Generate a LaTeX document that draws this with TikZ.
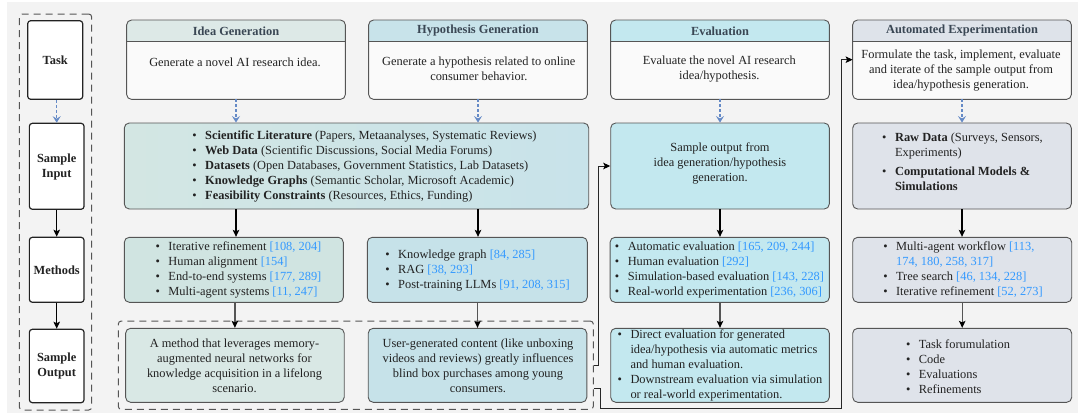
\documentclass[tikz,border=0pt]{standalone}
\usepackage{fontspec}
\setmainfont{Liberation Serif}
\usetikzlibrary{arrows.meta,positioning}

\definecolor{bgc}{HTML}{F3F3F3}
\definecolor{edge}{HTML}{555555}
\definecolor{txt}{HTML}{222222}
\definecolor{hdtxt}{HTML}{3A4754}
\definecolor{citeblue}{HTML}{3399FF}
\definecolor{dashblue}{HTML}{658AC6}
\definecolor{taskbody}{HTML}{FAFAFA}
\definecolor{ideahd}{HTML}{DDE9E7}
\definecolor{hyphd}{HTML}{C8E3EA}
\definecolor{evalhd}{HTML}{C3E8EF}
\definecolor{aehd}{HTML}{DEE3EA}
\definecolor{inleft}{HTML}{D3E6E3}
\definecolor{inright}{HTML}{C8E3EA}
\definecolor{ideafill}{HTML}{D0E4E1}
\definecolor{ideaoutfill}{HTML}{D9E8E5}
\definecolor{hypfill}{HTML}{C6E2E9}
\definecolor{evalfill}{HTML}{C3E8EF}
\definecolor{aefill}{HTML}{DFE3EA}

\newcommand{\citecol}[1]{\textcolor{citeblue}{#1}}
\newcommand{\itemlist}[1]{\begin{tabular}{@{}l@{\hspace{8.5pt}}l@{}}#1\end{tabular}}

\begin{document}
\begin{tikzpicture}[x=1pt,y=1pt,yscale=-1,
  every node/.style={font=\fontsize{12.4}{15}\selectfont, text=txt, inner sep=0.75pt},
  lblbox/.style={draw=txt, line width=1.2pt, rounded corners=3pt, fill=white, minimum width=54.7pt, inner sep=0pt},
  colbox/.style={draw=edge, line width=0.9pt, rounded corners=5pt, minimum width=218.6pt, inner sep=0pt},
  taskbox/.style={fill=taskbody, rounded corners=5pt, minimum width=218.4pt, minimum height=79pt, inner sep=0pt},
  grpbox/.style={draw=edge, line width=1pt, dash pattern=on 7pt off 5pt, rounded corners=3pt, inner sep=0pt},
  hdr/.style={font=\fontsize{12.4}{15}\selectfont\bfseries, text=hdtxt},
  lbl/.style={font=\fontsize{12.4}{15}\selectfont\bfseries, align=center},
  dasharr/.style={draw=dashblue, line width=1.2pt, dash pattern=on 3pt off 2pt, -{Stealth[length=6.5pt,width=8pt,inset=2.5pt]}},
  arr/.style={draw=black, line width=1.2pt, -{Stealth[length=7pt,width=6.5pt,inset=1.5pt]}},
  outarr/.style={draw=edge, line width=1.2pt, -{Stealth[length=7pt,width=6.5pt,inset=1.5pt,color=black]}},
  link/.style={draw=black!85, line width=0.9pt, -{Stealth[length=7pt,width=6.5pt,inset=1.5pt,color=black]}}
]
\useasboundingbox (0,0) rectangle (1078,415);
%Shape: Rectangle
\fill[bgc] (7,2) rectangle (1078,413);

%Shape: Dashed groups
\node[grpbox, minimum width=72.4pt, minimum height=396pt] (leftgroup) at (55.5,212) {};
\node[grpbox, minimum width=475pt, minimum height=88.3pt] (outgroup) at (355.8,365.2) {};

%Shape: Left column
\node[lblbox, minimum width=55pt, minimum height=78.6pt] (task) at (55.2,60) {};
\node[lblbox, minimum height=86pt] (smpin) at (56.7,166.3) {};
\node[lblbox, minimum height=65pt] (meth) at (56.7,269.8) {};
\node[lblbox, minimum height=73.4pt] (smpout) at (56.7,366) {};

%Shape: Task boxes
\node[taskbox] (ideatask) at (236,59.7) {};
\node[taskbox] (hyptask) at (478,59.7) {};
\node[taskbox] (evaltask) at (720,59.7) {};
\node[taskbox] (aetask) at (962,59.7) {};
\foreach \n/\c in {ideatask/ideahd,hyptask/hyphd,evaltask/evalhd,aetask/aehd}{
  \begin{scope}
    \clip[rounded corners=5pt] (\n.north west) rectangle (\n.south east);
    \fill[\c] (\n.north west) rectangle (\n.east |- 0,41.5);
  \end{scope}
  \draw[edge, line width=0.9pt] (\n.west |- 0,41.5) -- (\n.east |- 0,41.5);
  \draw[edge, line width=0.9pt, rounded corners=5pt] (\n.north west) rectangle (\n.south east);
}

%Shape: Sample input row
\node[colbox, minimum width=464.4pt, minimum height=86pt, left color=inleft, right color=inright] (bigin) at (356.5,166) {};
\node[colbox, minimum height=86pt, fill=evalfill] (evalin) at (720,166) {};
\node[colbox, minimum height=86pt, fill=aefill] (aein) at (962,166) {};

%Shape: Methods row
\node[colbox, minimum width=219pt, minimum height=65pt, fill=ideafill] (ideameth) at (233.8,269.8) {};
\node[colbox, minimum width=220pt, minimum height=65pt, fill=hypfill] (hypmeth) at (477.3,269.8) {};
\node[colbox, minimum width=219.3pt, minimum height=65pt, fill=evalfill] (evalmeth) at (719.7,269.8) {};
\node[colbox, minimum width=219pt, minimum height=65pt, fill=aefill] (aemeth) at (962.2,269.8) {};

%Shape: Sample output row
\node[colbox, minimum height=74pt, fill=ideaoutfill] (ideaout) at (234.9,365.3) {};
\node[colbox, minimum height=74pt, fill=hypfill] (hypout) at (477.5,365.3) {};
\node[colbox, minimum height=74pt, fill=evalfill] (evalout) at (720,365.3) {};
\node[colbox, minimum width=219pt, minimum height=74pt, fill=aefill] (aeout) at (962.2,365.3) {};

% Text Node
\node[lbl] (tasklbl) at (55.2,60) {Task};
\node[lbl] (smpinlbl) at (56.7,167) {Sample\\Input};
\node[lbl] (methlbl) at (56.7,270) {Methods};
\node[lbl] (smpoutlbl) at (56.7,366.5) {Sample\\Output};

% Text Node
\node[hdr] (ideahdr) at (236,31) {Idea Generation};
\node[hdr] (hyphdr) at (478,31) {Hypothesis Generation};
\node[hdr] (evalhdr) at (720,31) {Evaluation};
\node[hdr] (aehdr) at (962,31) {Automated Experimentation};

% Text Node
\node (ideatxt) at (235,62) {Generate a novel AI research idea.};
\node[align=center] (hyptxt) at (478.8,69) {Generate a hypothesis related to online\\consumer behavior.};
\node[align=center] (evaltxt) at (719.3,69) {Evaluate the novel AI research\\idea/hypothesis.};
\node[align=center] (aetxt) at (961,71) {Formulate the task, implement, evaluate\\and iterate of the sample output from\\idea/hypothesis generation.};

% Text Node
\node (bigintxt) at (364.5,166) {\itemlist{
  \textbullet & \textbf{Scientific Literature} (Papers, Metaanalyses, Systematic Reviews)\\
  \textbullet & \textbf{Web Data} (Scientific Discussions, Social Media Forums)\\
  \textbullet & \textbf{Datasets} (Open Databases, Government Statistics, Lab Datasets)\\
  \textbullet & \textbf{Knowledge Graphs} (Semantic Scholar, Microsoft Academic)\\
  \textbullet & \textbf{Feasibility Constraints} (Resources, Ethics, Funding)}};
\node[align=center] (evalintxt) at (720,163.5) {Sample output from\\idea generation/hypothesis\\generation.};
\node (aeintxt) at (962.5,163) {\itemlist{
  \textbullet & \textbf{Raw Data} (Surveys, Sensors,\\
  & Experiments)\\[4pt]
  \textbullet & \textbf{Computational Models \&}\\
  & \textbf{Simulations}}};

% Text Node
\node (ideamethtxt) at (238.5,269.5) {\itemlist{
  \textbullet & Iterative refinement \citecol{[108, 204]}\\
  \textbullet & Human alignment \citecol{[154]}\\
  \textbullet & End-to-end systems \citecol{[177, 289]}\\
  \textbullet & Multi-agent systems \citecol{[11, 247]}}};
\node (hypmethtxt) at (477.5,270) {\itemlist{
  \textbullet & Knowledge graph \citecol{[84, 285]}\\
  \textbullet & RAG \citecol{[38, 293]}\\
  \textbullet & Post-training LLMs \citecol{[91, 208, 315]}}};
\node (evalmethtxt) at (719.5,270) {\itemlist{
  \textbullet & Automatic evaluation \citecol{[165, 209, 244]}\\
  \textbullet & Human evaluation \citecol{[292]}\\
  \textbullet & Simulation-based evaluation \citecol{[143, 228]}\\
  \textbullet & Real-world experimentation \citecol{[236, 306]}}};
\node (aemethtxt) at (963,269.5) {\itemlist{
  \textbullet & Multi-agent workflow \citecol{[113,}\\
  & \citecol{174, 180, 258, 317]}\\
  \textbullet & Tree search \citecol{[46, 134, 228]}\\
  \textbullet & Iterative refinement \citecol{[52, 273]}}};

% Text Node
\node[align=center] (ideaouttxt) at (234.5,365.5) {A method that leverages memory-\\augmented neural networks for\\knowledge acquisition in a lifelong\\scenario.};
\node[align=center] (hypouttxt) at (478,365.5) {User-generated content (like unboxing\\videos and reviews) greatly influences\\blind box purchases among young\\consumers.};
\node (evalouttxt) at (720,365.5) {\itemlist{
  \textbullet & Direct evaluation for generated\\
  & idea/hypothesis via automatic metrics\\
  & and human evaluation.\\
  \textbullet & Downstream evaluation via simulation\\
  & or real-world experimentation.}};
\node (aeouttxt) at (958,367.5) {\itemlist{
  \textbullet & Task forumulation\\
  \textbullet & Code\\
  \textbullet & Evaluations\\
  \textbullet & Refinements}};

%Straight Lines
\draw[dasharr] (smpin.north |- task.south) -- (smpin.north);
\draw[arr] (smpin.south) -- (meth.north);
\draw[arr] (meth.south) -- (smpout.north);

%Straight Lines
\draw[dasharr] (ideatask.south) -- (ideatask.south |- bigin.north);
\draw[dasharr] (hyptask.south) -- (hyptask.south |- bigin.north);
\draw[dasharr] (evaltask.south) -- (evalin.north);
\draw[dasharr] (aetask.south) -- (aein.north);

%Straight Lines
\draw[arr] (bigin.south -| ideatask.south) -- (ideameth.north -| ideatask.south);
\draw[arr] (bigin.south -| hyptask.south) -- (hypmeth.north -| hyptask.south);
\draw[arr] (evalin.south) -- (evalmeth.north -| evalin.south);
\draw[arr] (aein.south) -- (aemeth.north -| aein.south);

%Straight Lines
\draw[outarr] (ideameth.south -| ideaout.north) -- (ideaout.north);
\draw[outarr] (hypmeth.south -| hypout.north) -- (hypout.north);
\draw[outarr] (evalmeth.south -| evalout.north) -- (evalout.north);
\draw[outarr] (aemeth.south -| aeout.north) -- (aeout.north);

%Straight Lines
\draw[link] (outgroup.east) -- ++(5,0) |- (evalin.west);
\draw[link] (outgroup.east |- 0,388) -- (600,388) -- (600,408) -- (841,408) |- (aetask.west);

\end{tikzpicture}
\end{document}
